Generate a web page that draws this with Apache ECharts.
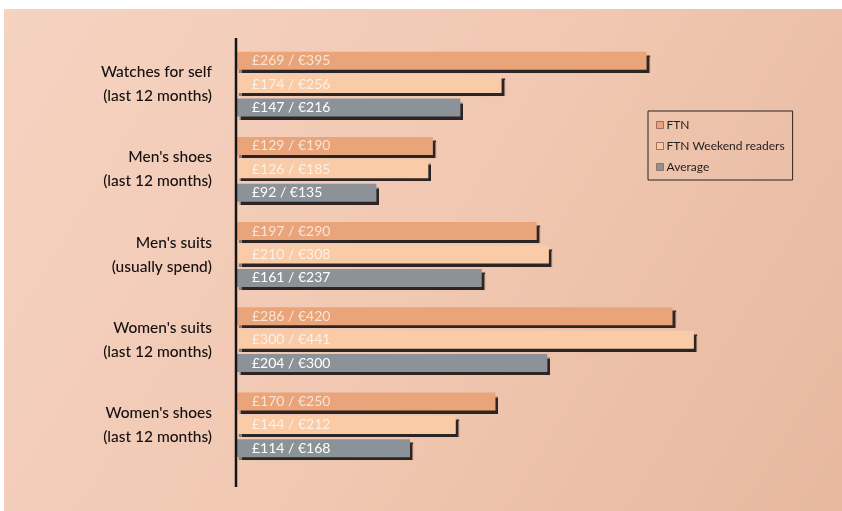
<!DOCTYPE html>
<html>
<head>
<meta charset="utf-8">
<script src="https://cdn.jsdelivr.net/npm/echarts@6/dist/echarts.min.js"></script>
<style>
html,body{margin:0;padding:0;background:#fff;}
#c{width:842px;height:511px;}
</style>
</head>
<body>
<div id="c"></div>
<script>
var categories = ['Watches for self\n(last 12 months)', "Men's shoes\n(last 12 months)", "Men's suits\n(usually spend)", "Women's suits\n(last 12 months)", "Women's shoes\n(last 12 months)"];
var seriesNames = ['FTN', 'FTN Weekend readers', 'Average'];
var ftnValues = [269, 129, 197, 286, 170];
var weekendValues = [174, 126, 205, 300, 144];
var averageValues = [147, 92, 161, 204, 114];
var ftnLabels = ['£269 / €395', '£129 / €190', '£197 / €290', '£286 / €420', '£170 / €250'];
var weekendLabels = ['£174 / €256', '£126 / €185', '£210 / €308', '£300 / €441', '£144 / €212'];
var averageLabels = ['£147 / €216', '£92 / €135', '£161 / €237', '£204 / €300', '£114 / €168'];

var FONT = 'Lato, "Open Sans", sans-serif';
var chart = echarts.init(document.getElementById('c'), null, {renderer: 'canvas'});

function mkSeries(name, values, labels, color, labelColor) {
  return {
    name: name,
    type: 'bar',
    data: values,
    barWidth: 18,
    barGap: '30%',
    itemStyle: {
      color: color,
      shadowColor: 'rgba(35,28,28,0.95)',
      shadowOffsetX: 3,
      shadowOffsetY: 3,
      shadowBlur: 1
    },
    label: {
      show: true,
      position: 'insideLeft',
      distance: 16,
      color: labelColor,
      fontFamily: FONT,
      fontSize: 14,
      formatter: function (p) { return labels[p.dataIndex]; }
    },
    emphasis: {disabled: true}
  };
}

chart.setOption({
  animation: false,
  backgroundColor: 'transparent',
  graphic: [
    {
      type: 'rect', z: -10, silent: true,
      shape: {x: 4, y: 9, width: 838, height: 502},
      style: {
        fill: new echarts.graphic.LinearGradient(0, 0, 1, 1, [
          {offset: 0, color: '#f5d3c1'},
          {offset: 0.5, color: '#f1c8b2'},
          {offset: 1, color: '#e7b89e'}
        ])
      }
    },
    {
      type: 'line', z: 10, silent: true,
      shape: {x1: 236, y1: 38, x2: 236, y2: 487},
      style: {stroke: '#151515', lineWidth: 2.5}
    }
  ],
  grid: {left: 236, right: 26, top: 41.5, bottom: 43.5, containLabel: false},
  xAxis: {
    type: 'value', min: 0, max: 380,
    show: false
  },
  yAxis: {
    type: 'category',
    inverse: true,
    data: categories,
    axisLine: {show: false},
    axisTick: {show: false},
    axisLabel: {
      margin: 24,
      color: '#141010',
      fontFamily: FONT,
      fontSize: 15.5,
      fontWeight: 500,
      lineHeight: 24,
      padding: [7, 0, 0, 0],
      align: 'right'
    }
  },
  legend: {
    orient: 'vertical',
    left: 648,
    top: 111,
    width: 149,
    data: seriesNames,
    borderColor: '#2a2222',
    borderWidth: 1,
    padding: [8, 8, 7, 8],
    itemWidth: 7,
    itemHeight: 7,
    itemGap: 9,
    icon: 'rect',
    itemStyle: {
      borderColor: '#9a7060',
      borderWidth: 1,
      shadowBlur: 0,
      shadowOffsetX: 0,
      shadowOffsetY: 0,
      shadowColor: 'transparent'
    },
    textStyle: {color: '#221c1c', fontFamily: FONT, fontSize: 12, padding: [0, 0, 0, -2]}
  },
  series: [
    mkSeries('FTN', ftnValues, ftnLabels, '#e9a47a', 'rgba(255,255,255,0.7)'),
    mkSeries('FTN Weekend readers', weekendValues, weekendLabels, '#f9cba7', 'rgba(255,255,255,0.7)'),
    mkSeries('Average', averageValues, averageLabels, '#8b9298', '#ffffff')
  ]
});
</script>
</body>
</html>
